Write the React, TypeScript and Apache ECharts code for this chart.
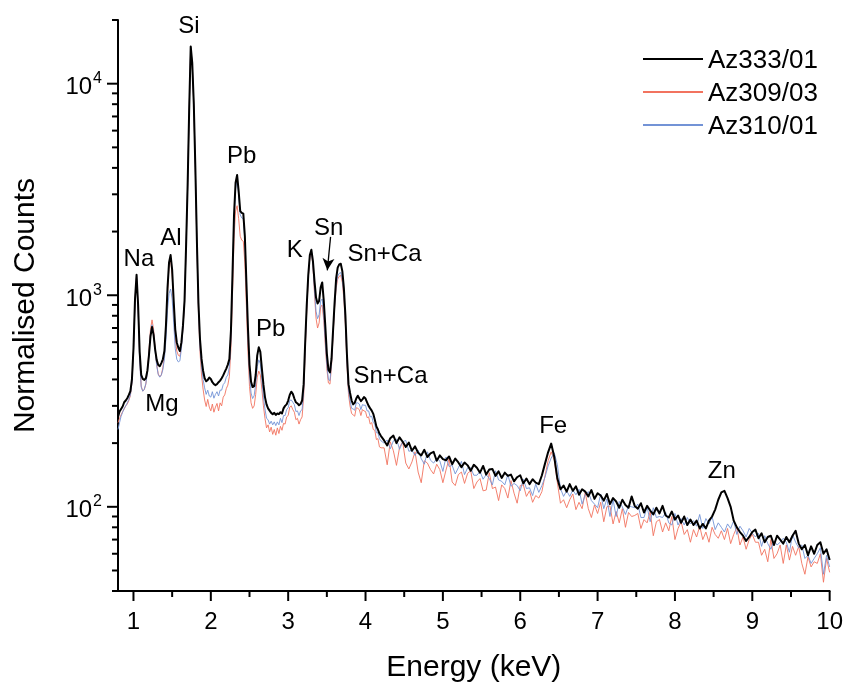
import React, { useEffect, useRef } from "react";
import * as echarts from "echarts";

// Energy channels (keV)
const ENERGY_KEV = [
  0.80,0.82,0.84,0.86,0.88,0.90,0.92,0.94,0.96,0.98,
  1.00,1.02,1.04,1.06,1.08,1.10,1.12,1.14,1.16,1.18,
  1.20,1.22,1.24,1.26,1.28,1.30,1.32,1.34,1.36,1.38,
  1.40,1.42,1.44,1.46,1.48,1.50,1.52,1.54,1.56,1.58,
  1.60,1.62,1.64,1.66,1.68,1.70,1.72,1.74,1.76,1.78,
  1.80,1.82,1.84,1.86,1.88,1.90,1.92,1.94,1.96,1.98,
  2.00,2.02,2.04,2.06,2.08,2.10,2.12,2.14,2.16,2.18,
  2.20,2.22,2.24,2.26,2.28,2.30,2.32,2.34,2.36,2.38,
  2.40,2.42,2.44,2.46,2.48,2.50,2.52,2.54,2.56,2.58,
  2.60,2.62,2.64,2.66,2.68,2.70,2.72,2.74,2.76,2.78,
  2.80,2.82,2.84,2.86,2.88,2.90,2.92,2.94,2.96,2.98,
  3.00,3.02,3.04,3.06,3.08,3.10,3.12,3.14,3.16,3.18,
  3.20,3.22,3.24,3.26,3.28,3.30,3.32,3.34,3.36,3.38,
  3.40,3.42,3.44,3.46,3.48,3.50,3.52,3.54,3.56,3.58,
  3.60,3.62,3.64,3.66,3.68,3.70,3.72,3.74,3.76,3.78,
  3.80,3.82,3.84,3.86,3.88,3.90,3.92,3.94,3.96,3.98,
  4.00,4.02,4.04,4.06,4.08,4.10,4.12,4.14,4.16,4.18,
  4.20,
  4.24,4.28,4.32,4.36,4.40,4.44,4.48,4.52,4.56,4.60,
  4.64,4.68,4.72,4.76,4.80,4.84,4.88,4.92,4.96,5.00,
  5.04,5.08,5.12,5.16,5.20,5.24,5.28,5.32,5.36,5.40,
  5.44,5.48,5.52,5.56,5.60,5.64,5.68,5.72,5.76,5.80,
  5.84,5.88,5.92,5.96,6.00,6.04,6.08,6.12,6.16,6.20,
  6.24,6.28,6.32,6.36,6.40,6.44,6.48,6.52,6.56,6.60,
  6.64,6.68,6.72,6.76,6.80,6.84,6.88,6.92,6.96,7.00,
  7.04,7.08,7.12,7.16,7.20,7.24,7.28,7.32,7.36,7.40,
  7.44,7.48,7.52,7.56,7.60,7.64,7.68,7.72,7.76,7.80,
  7.84,7.88,7.92,7.96,8.00,8.04,8.08,8.12,8.16,8.20,
  8.24,8.28,8.32,8.36,8.40,8.44,8.48,8.52,8.56,8.60,
  8.64,8.68,8.72,8.76,8.80,8.84,8.88,8.92,8.96,9.00,
  9.04,9.08,9.12,9.16,9.20,9.24,9.28,9.32,9.36,9.40,
  9.44,9.48,9.52,9.56,9.60,9.64,9.68,9.72,9.76,9.80,
  9.84,9.88,9.92,9.96,10.00,
];

// Az333/01 (black)
const AZ333_01 = [
  266,282,290,298,312,318,326,338,352,400,
  560,960,1250,900,540,420,402,398,405,440,
  520,640,708,650,555,495,468,462,478,498,
  545,720,1080,1430,1550,1320,940,690,598,565,
  545,600,720,940,1700,3300,7500,15000,12500,8000,
  4000,1800,920,620,500,440,405,392,398,408,
  402,388,380,376,380,388,395,405,418,434,
  450,470,500,680,1250,2400,3400,3700,3100,2500,
  2450,2430,1900,1150,700,470,390,368,372,420,
  520,568,540,450,378,330,305,292,285,278,
  274,278,272,276,274,280,276,292,300,305,
  318,338,350,342,325,312,308,302,306,318,
  380,600,900,1250,1550,1640,1450,1170,975,915,
  940,1090,1150,940,715,530,445,432,500,680,
  920,1200,1350,1400,1410,1300,1080,800,520,380,
  345,318,305,310,325,335,325,316,322,330,
  325,312,300,292,285,275,258,240,232,222,
  216,
  206,195,211,217,200,213,203,192,201,184,
  193,180,175,186,172,179,182,165,175,168,
  166,173,159,169,162,154,162,157,148,158,
  153,145,156,142,150,151,140,147,137,145,
  140,142,132,138,141,129,136,128,135,130,
  128,141,160,181,199,172,136,121,126,118,
  128,119,125,114,121,118,112,120,109,116,
  113,107,115,103,110,106,99,108,102,99,
  112,101,98,104,94,101,96,92,99,93,
  101,91,89,95,87,91,84,90,82,87,
  82,86,79,83,79,86,90,97,108,117,
  119,110,100,86,80,76,73,69,72,76,
  78,71,75,68,72,73,66,73,70,67,
  72,68,73,77,67,63,66,59,65,60,
  66,68,60,63,56,
];

// Az309/03 (red)
const AZ309_03 = [
  250,262,272,282,290,300,306,318,335,385,
  545,950,1230,880,500,372,352,358,380,440,
  545,690,765,690,560,470,425,412,420,455,
  520,700,1030,1380,1480,1250,880,630,545,520,
  515,575,700,920,1680,3250,7400,14800,12300,7900,
  3900,1700,840,540,420,360,320,298,322,296,
  284,306,280,296,308,284,310,300,330,338,
  362,376,414,560,1000,1850,2500,2650,2300,1900,
  1820,1800,1420,880,540,370,310,292,300,340,
  410,438,420,360,300,262,236,244,226,238,
  220,232,218,236,222,240,230,248,246,266,
  270,296,300,288,280,258,262,246,258,266,
  330,540,840,1200,1510,1600,1380,1020,780,700,
  740,880,900,760,580,450,385,380,460,640,
  870,1080,1190,1230,1240,1150,960,720,470,340,
  300,276,272,268,294,292,288,270,288,284,
  282,264,266,246,250,232,230,208,210,192,
  190,
  190,158,203,184,157,191,203,161,151,163,
  182,146,130,165,161,150,143,159,150,130,
  149,169,131,126,142,146,129,144,148,122,
  131,136,119,120,145,122,124,107,127,122,
  110,133,116,104,126,127,112,119,105,113,
  110,118,140,165,182,166,130,104,108,99,
  108,115,97,105,98,117,98,89,102,93,
  105,85,100,101,83,95,84,98,80,94,
  90,91,93,79,87,84,95,73,85,87,
  76,84,77,90,70,79,85,74,78,68,
  78,72,81,70,76,68,80,74,71,77,
  70,79,67,74,80,66,72,63,70,74,
  68,68,59,63,55,70,57,60,66,54,
  66,56,65,59,65,54,48,58,52,55,
  54,60,44,57,49,
];

// Az310/01 (blue)
const AZ310_01 = [
  232,250,268,280,292,300,310,322,338,385,
  540,940,1240,870,490,368,352,360,382,430,
  525,660,725,665,545,465,422,410,420,445,
  500,620,850,1020,1070,960,740,560,498,484,
  490,560,700,920,1680,3260,7420,14900,12400,7950,
  3950,1750,870,570,455,400,365,340,356,334,
  330,350,326,340,350,334,356,356,378,386,
  410,420,460,620,1180,2250,3200,3500,2980,2400,
  2320,2300,1800,1080,640,420,345,325,335,380,
  460,495,475,395,330,290,262,258,246,254,
  244,252,242,252,244,262,250,270,270,288,
  294,318,320,312,304,282,284,270,284,288,
  350,565,870,1220,1530,1620,1400,1060,840,775,
  810,940,960,800,610,470,400,395,475,660,
  890,1110,1230,1270,1280,1190,1000,750,490,355,
  318,292,290,286,310,310,306,288,304,302,
  302,284,284,266,268,250,246,224,224,210,
  205,
  200,207,188,205,209,187,203,206,183,185,
  175,185,169,159,182,166,161,169,165,147,
  172,155,157,143,153,164,142,153,153,141,
  141,147,135,142,136,127,148,134,132,127,
  142,125,129,126,119,135,122,123,113,128,
  117,126,138,156,170,180,158,122,112,119,
  112,120,114,121,103,114,118,107,103,99,
  115,98,109,90,108,90,106,100,92,101,
  100,99,103,89,89,100,85,99,89,90,
  89,94,84,82,93,82,88,82,89,83,
  86,81,92,79,88,83,90,78,84,80,
  76,83,79,86,74,81,77,72,79,75,
  72,75,65,73,67,63,69,66,68,71,
  68,61,74,68,64,66,57,59,54,57,
  60,64,48,59,52,
];

const SERIES_NAMES = ["Az333/01", "Az309/03", "Az310/01"];
const SERIES_COLORS = ["#000000", "#f2735f", "#7393d6"];

const X_MIN = 0.8;
const X_MAX = 10;
const Y_MIN = 40;
const Y_MAX = 20000;

const X_TICKS = [1, 2, 3, 4, 5, 6, 7, 8, 9, 10];
const X_MINOR_TICKS = [1.5, 2.5, 3.5, 4.5, 5.5, 6.5, 7.5, 8.5, 9.5];
const Y_TICKS = [100, 1000, 10000];
const Y_MINOR_TICKS = [
  40, 50, 60, 70, 80, 90,
  200, 300, 400, 500, 600, 700, 800, 900,
  2000, 3000, 4000, 5000, 6000, 7000, 8000, 9000, 20000,
];

const PEAK_LABELS = ["Na", "Mg", "Al", "Si", "Pb", "Pb", "K", "Sn", "Sn+Ca", "Sn+Ca", "Fe", "Zn"];
const PEAK_LABEL_E = [1.071, 1.368, 1.484, 1.716, 2.40, 2.774, 3.084, 3.523, 4.245, 4.323, 6.426, 8.606];
const PEAK_LABEL_COUNTS = [1503, 310, 1888, 18970, 4640, 705, 1659, 2104, 1588, 424, 244, 150];
const SN_ARROW_FROM = [3.548, 1888];
const SN_ARROW_TO = [3.506, 1311];

const FONT = "'Liberation Sans', Arial, Helvetica, sans-serif";

export default function App() {
  const ref = useRef<HTMLDivElement>(null);

  useEffect(() => {
    if (!ref.current) return;
    const chart = echarts.init(ref.current, undefined, { renderer: "svg" });

    const toPairs = (arr: number[]) => ENERGY_KEV.map((e, i) => [e, arr[i]]);

    const option: any = {
      animation: false,
      grid: { left: 117, right: 16, top: 20, bottom: 92 },
      legend: {
        data: SERIES_NAMES.map((n, i) => ({
          name: n,
          icon: "rect",
          itemStyle: { color: SERIES_COLORS[i] },
        })),
        orient: "vertical",
        left: 638,
        top: 41,
        itemWidth: 60,
        itemHeight: 2,
        itemGap: 7,
        textStyle: { fontSize: 26, color: "#000", fontFamily: FONT, lineHeight: 26 },
      },
      xAxis: {
        type: "value",
        min: X_MIN,
        max: X_MAX,
        name: "Energy (keV)",
        nameLocation: "middle",
        nameGap: 59,
        nameTextStyle: { fontSize: 30, lineHeight: 30, color: "#000", fontFamily: FONT },
        axisLine: { show: true, onZero: false, lineStyle: { color: "#000", width: 2 } },
        axisTick: { show: false },
        axisLabel: { customValues: X_TICKS, fontSize: 24, color: "#000", margin: 17, fontFamily: FONT },
        splitLine: { show: false },
      },
      yAxis: {
        type: "log",
        logBase: 10,
        min: Y_MIN,
        max: Y_MAX,
        name: "Normalised Counts",
        nameLocation: "middle",
        nameGap: 80,
        nameRotate: 90,
        nameTextStyle: { fontSize: 30, lineHeight: 30, color: "#000", fontFamily: FONT },
        axisLine: { show: true, onZero: false, lineStyle: { color: "#000", width: 2 } },
        axisTick: { show: false },
        axisLabel: {
          customValues: Y_TICKS,
          margin: 16,
          color: "#000",
          formatter: (v: number) => `{b|10}{s|${Math.round(Math.log10(v))}}`,
          rich: {
            b: { fontSize: 24, fontFamily: FONT, color: "#000", lineHeight: 28, verticalAlign: "bottom" },
            s: { fontSize: 16, fontFamily: FONT, color: "#000", lineHeight: 28, verticalAlign: "top", padding: [0, 0, 0, 1] },
          },
        },
        splitLine: { show: false },
      },
      series: [
        {
          name: "Az309/03",
          type: "line",
          data: toPairs(AZ309_03),
          symbol: "none",
          z: 2,
          lineStyle: { color: SERIES_COLORS[1], width: 0.9 },
          itemStyle: { color: SERIES_COLORS[1] },
        },
        {
          name: "Az310/01",
          type: "line",
          data: toPairs(AZ310_01),
          symbol: "none",
          z: 3,
          lineStyle: { color: SERIES_COLORS[2], width: 0.9 },
          itemStyle: { color: SERIES_COLORS[2] },
        },
        {
          name: "Az333/01",
          type: "line",
          data: toPairs(AZ333_01),
          symbol: "none",
          z: 4,
          lineStyle: { color: SERIES_COLORS[0], width: 2, join: "round" },
          itemStyle: { color: SERIES_COLORS[0] },
        },
        {
          type: "scatter",
          silent: true,
          z: 5,
          symbolSize: 1,
          itemStyle: { color: "rgba(0,0,0,0)", opacity: 1 },
          data: PEAK_LABELS.map((n, i) => [PEAK_LABEL_E[i], PEAK_LABEL_COUNTS[i], n]),
          label: {
            show: true,
            position: "inside",
            formatter: (p: any) => p.data[2],
            fontSize: 24,
            color: "#000",
            fontFamily: FONT,
          },
          markLine: {
            silent: true,
            symbol: ["none", "arrow"],
            symbolSize: [9, 12],
            label: { show: false },
            lineStyle: { color: "#000", width: 1.3, type: "solid" },
            data: [[{ coord: SN_ARROW_FROM }, { coord: SN_ARROW_TO }]],
          },
        },
      ],
    };

    chart.setOption(option);

    // Outward tick marks, placed through the axes' own scales
    const toPx = (x: number, y: number) =>
      chart.convertToPixel({ gridIndex: 0 } as any, [x, y]) as number[];
    const tick = (x1: number, y1: number, x2: number, y2: number) => ({
      type: "line",
      shape: { x1, y1, x2, y2 },
      style: { stroke: "#000", lineWidth: 2 },
    });
    const els: any[] = [];
    X_TICKS.forEach((v) => {
      const p = toPx(v, Y_MIN);
      els.push(tick(p[0], p[1], p[0], p[1] + 10));
    });
    X_MINOR_TICKS.forEach((v) => {
      const p = toPx(v, Y_MIN);
      els.push(tick(p[0], p[1], p[0], p[1] + 6));
    });
    Y_TICKS.forEach((v) => {
      const p = toPx(X_MIN, v);
      els.push(tick(p[0] - 11, p[1], p[0], p[1]));
    });
    Y_MINOR_TICKS.forEach((v) => {
      const p = toPx(X_MIN, v);
      els.push(tick(p[0] - 6, p[1], p[0], p[1]));
    });
    chart.setOption({ graphic: { elements: els } });

    return () => chart.dispose();
  }, []);

  return (
    <div
      ref={ref}
      style={{ position: "fixed", left: 0, top: 0, width: 846, height: 685 }}
    />
  );
}
